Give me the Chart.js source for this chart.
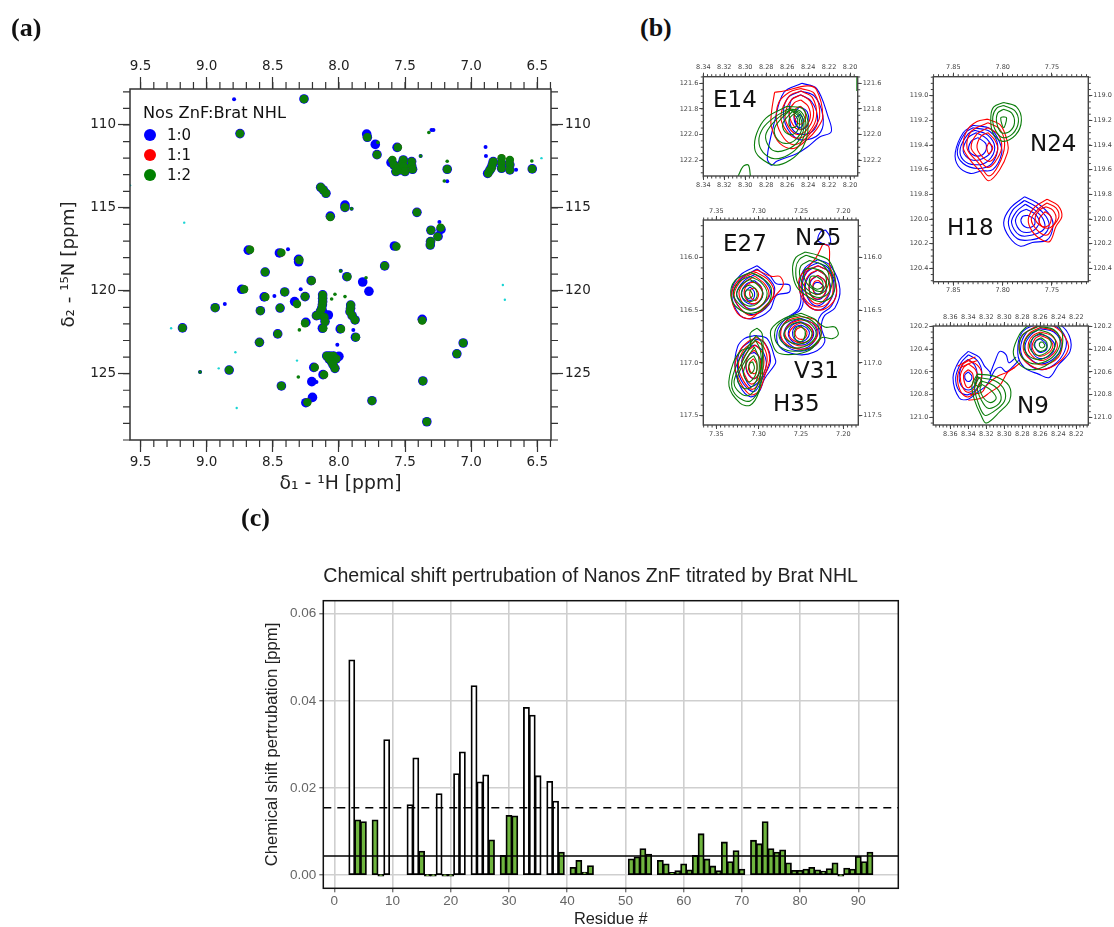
<!doctype html>
<html>
<head>
<meta charset="utf-8">
<title>Nanos ZnF titration by Brat NHL</title>
<style>
  html, body { margin: 0; background: #fff; }
  #page { position: relative; width: 1114px; height: 927px; overflow: hidden; }
  canvas { position: absolute; }
  .letter { position: absolute; font: bold 26px "Liberation Serif", serif; color: #111; line-height: 28px; }
  .peak { position: absolute; font: 23px "DejaVu Sans", sans-serif; color: #111; line-height: 28px; }
  .key { position: absolute; font: 15px "DejaVu Sans", sans-serif; color: #111; line-height: 20px; }
  .dot { position: absolute; width: 12px; height: 12px; border-radius: 50%; }
</style>
</head>
<body>
<div id="page">
  <canvas id="panelA" style="left:40px;top:40px" width="580" height="470"></canvas>
  <canvas id="panelE14" style="left:665px;top:50px" width="225" height="145"></canvas>
  <canvas id="panelE27" style="left:665px;top:198px" width="225" height="245"></canvas>
  <canvas id="panelN24" style="left:895px;top:55px" width="219" height="245"></canvas>
  <canvas id="panelN9" style="left:895px;top:305px" width="219" height="140"></canvas>
  <canvas id="panelC" style="left:250px;top:560px" width="670" height="372"></canvas>

  <div class="letter" style="left:11px;top:14px">(a)</div>
  <div class="letter" style="left:640px;top:14px">(b)</div>
  <div class="letter" style="left:241px;top:504px">(c)</div>

  <div class="key" style="left:143px;top:103px;font-size:16.2px">Nos ZnF:Brat NHL</div>
  <div class="dot" style="left:143.5px;top:129px;background:#0000ff"></div>
  <div class="key" style="left:167px;top:125px">1:0</div>
  <div class="dot" style="left:143.5px;top:149px;background:#ff0000"></div>
  <div class="key" style="left:167px;top:145px">1:1</div>
  <div class="dot" style="left:143.5px;top:169px;background:#008000"></div>
  <div class="key" style="left:167px;top:165px">1:2</div>

  <div class="peak" style="left:713px;top:85px">E14</div>
  <div class="peak" style="left:723px;top:229px">E27</div>
  <div class="peak" style="left:795px;top:223px">N25</div>
  <div class="peak" style="left:794px;top:356px">V31</div>
  <div class="peak" style="left:773px;top:389px">H35</div>
  <div class="peak" style="left:1030px;top:129px">N24</div>
  <div class="peak" style="left:947px;top:213px">H18</div>
  <div class="peak" style="left:1017px;top:391px">N9</div>
</div>

<script src="https://cdn.jsdelivr.net/npm/chart.js"></script>
<script>
// (a) HSQC peaks, [1H, 15N] in ppm
const hsqcXTicks = [9.5, 9.0, 8.5, 8.0, 7.5, 7.0, 6.5];
const hsqcYTicks = [110, 115, 120, 125];

const bluePeaks = [[8.264,108.43],[8.748,110.52],[7.79,110.55],[7.785,110.74],[7.725,111.17],[7.712,111.79],[7.56,111.35],
  [7.606,112.27],[7.585,112.4],[7.569,112.81],[7.55,112.5],[7.538,112.71],[7.513,112.11],[7.52,112.3],[7.508,112.51],[7.5,112.81],[7.45,112.21],[7.45,112.45],[7.443,112.67],
  [7.181,112.67],[6.875,112.92],[6.86,112.75],[6.85,112.61],[6.84,112.4],[6.833,112.21],[6.77,112.3],[6.77,112.61],[6.707,112.4],[6.707,112.71],[6.538,112.65],
  [8.138,113.76],[8.118,113.92],[8.098,114.12],[7.954,114.83],[7.954,114.97],[8.065,115.5],[7.41,115.27],
  [7.304,116.35],[7.228,116.3],[7.25,116.72],[7.307,117.03],[7.309,117.24],[7.58,117.3],[7.654,118.5],
  [8.685,117.55],[8.45,117.72],[8.305,118.1],[8.305,118.25],[8.558,118.87],[8.21,119.39],[7.94,119.15],[7.82,119.47],[7.773,120.03],
  [8.735,119.91],[8.41,120.07],[8.565,120.37],[8.256,120.35],[8.335,120.65],[8.936,121.02],[8.594,121.2],[8.445,121.04],
  [8.123,120.25],[8.123,120.45],[8.123,120.66],[8.125,120.85],[8.13,121.06],[8.14,121.25],[8.155,121.46],[8.17,121.5],[8.12,121.3],[8.08,121.46],[8.11,121.6],[8.105,121.86],[8.125,122.26],
  [7.911,120.86],[7.912,121.05],[7.916,121.26],[7.9,121.5],[7.878,121.76],[8.25,121.9],[7.99,122.3],[7.875,122.8],[9.183,122.24],[8.463,122.6],[8.601,123.11],
  [8.092,123.93],[8.07,123.93],[8.042,123.93],[8.0,123.95],[8.02,124.1],[8.075,124.1],[8.057,124.27],[8.045,124.45],[8.03,124.68],[8.19,124.62],[8.12,125.06],[8.83,124.78],
  [8.435,125.74],[8.205,125.48],[8.2,126.43],[8.25,126.75],[7.75,126.63],[7.37,121.72],[7.365,125.44],[7.335,127.9],[7.06,123.15],[7.108,123.8]];

const greenPeaks = [[8.264,108.43],[8.748,110.52],[7.785,110.74],[7.712,111.79],[7.554,111.35],
  [7.596,112.11],[7.585,112.4],[7.569,112.81],[7.55,112.6],[7.538,112.71],[7.513,112.11],[7.52,112.3],[7.508,112.51],[7.5,112.81],[7.45,112.21],[7.45,112.45],[7.443,112.67],
  [7.181,112.67],[6.871,112.92],[6.86,112.75],[6.846,112.61],[6.84,112.4],[6.833,112.21],[6.77,112.0],[6.77,112.3],[6.77,112.61],[6.707,112.11],[6.707,112.4],[6.707,112.71],[6.538,112.65],
  [8.138,113.76],[8.118,113.92],[8.098,114.12],[7.954,114.97],[8.065,115.55],[7.41,115.27],
  [7.304,116.35],[7.231,116.19],[7.254,116.74],[7.307,117.03],[7.309,117.24],[7.565,117.33],[7.654,118.5],
  [8.672,117.52],[8.435,117.7],[8.299,118.14],[8.558,118.87],[8.206,119.39],[7.936,119.15],
  [8.717,119.91],[8.41,120.07],[8.556,120.37],[8.256,120.35],[8.317,120.8],[8.936,121.02],[8.594,121.2],[8.445,121.04],
  [8.123,120.25],[8.123,120.45],[8.123,120.66],[8.125,120.85],[8.13,121.06],[8.14,121.25],[8.155,121.46],[8.17,121.5],[8.11,121.6],[8.105,121.86],[8.118,122.26],
  [7.911,120.86],[7.912,121.05],[7.916,121.26],[7.9,121.5],[7.878,121.76],[8.256,121.96],[7.984,122.3],[7.871,122.8],[9.183,122.24],[8.463,122.6],[8.601,123.11],
  [8.092,123.93],[8.07,123.93],[8.042,123.93],[8.02,124.1],[8.075,124.1],[8.057,124.27],[8.045,124.45],[8.03,124.68],[8.183,124.62],[8.112,125.06],[8.83,124.78],
  [8.435,125.74],[8.238,126.73],[7.75,126.63],[7.37,121.8],[7.365,125.44],[7.335,127.9],[7.06,123.15],[7.108,123.8]];

const smallBluePeaks = [[8.793,108.45],[7.3,110.3],[7.285,110.3],[7.382,111.87],[6.891,111.33],[6.888,111.87],[7.181,113.4],[6.66,112.7],
  [7.904,115.05],[8.385,117.5],[7.986,118.79],[8.488,120.31],[8.863,120.8],[8.289,119.91],[7.891,122.36],[8.012,123.25],[9.05,124.9],[8.17,125.5],[7.24,115.85]];
const smallGreenPeaks = [[7.795,119.21],[7.181,112.19],[7.203,113.38],[6.541,112.17],[7.904,115.05],[7.987,118.81],[8.307,125.2],
  [7.705,111.05],[8.03,120.21],[8.055,120.5],[7.954,120.35],[8.299,122.36],[7.32,110.45],[9.05,124.9],[7.382,111.87]];
const cyanPeaks = [[9.17,115.89],[9.58,113.64],[9.269,122.26],[8.783,123.71],[8.909,124.68],[8.317,124.21],[8.773,127.07],
  [6.745,120.54],[6.76,119.65],[6.468,112.0]];

// (b) contour rings as flat x,y lists in ppm
const e14XTicks = [8.34, 8.32, 8.30, 8.28, 8.26, 8.24, 8.22, 8.20];
const e14YTicks = [121.6, 121.8, 122.0, 122.2];
const e14Blue = [
  [8.246,121.6,8.232,121.64,8.221,121.86,8.218,121.98,8.229,122.02,8.241,122.1,8.251,122.15,8.27,122.21,8.275,122.24,8.279,122.18,8.272,121.9,8.263,121.67],
  [8.247,121.66,8.234,121.7,8.226,121.85,8.228,121.98,8.24,122.04,8.253,122.02,8.263,121.88,8.26,121.72],
  [8.247,121.69,8.237,121.74,8.231,121.86,8.234,121.96,8.245,122.0,8.255,121.96,8.258,121.85,8.256,121.73],
  [8.248,121.78,8.241,121.82,8.24,121.92,8.246,121.96,8.252,121.92,8.253,121.84],
  [8.248,121.84,8.245,121.88,8.246,121.94,8.25,121.94,8.252,121.88]];
const e14Red = [
  [8.272,121.67,8.263,121.66,8.241,121.62,8.232,121.65,8.226,121.86,8.232,121.96,8.241,122.04,8.254,122.11,8.267,122.07,8.275,121.94,8.275,121.83],
  [8.247,121.64,8.234,121.68,8.229,121.86,8.236,121.97,8.245,122.05,8.254,122.08,8.263,122.03,8.27,121.9,8.268,121.75,8.258,121.67],
  [8.247,121.66,8.236,121.71,8.232,121.86,8.239,121.98,8.25,122.03,8.26,121.98,8.266,121.86,8.258,121.7],
  [8.247,121.69,8.238,121.74,8.235,121.86,8.242,121.97,8.25,122.0,8.258,121.95,8.262,121.85,8.256,121.73],
  [8.247,121.73,8.24,121.78,8.238,121.87,8.244,121.95,8.25,121.96,8.256,121.9,8.258,121.82,8.253,121.75],
  [8.247,121.78,8.243,121.82,8.243,121.89,8.248,121.92,8.253,121.87,8.252,121.8]];
const e14Green = [
  [8.26,121.78,8.245,121.8,8.24,121.94,8.245,122.1,8.257,122.2,8.272,122.24,8.286,122.18,8.291,122.11,8.289,121.99,8.28,121.87],
  [8.259,121.8,8.247,121.82,8.242,121.94,8.248,122.08,8.259,122.16,8.272,122.19,8.283,122.14,8.287,122.05,8.283,121.95,8.273,121.87],
  [8.258,121.81,8.248,121.83,8.244,121.94,8.25,122.06,8.261,122.12,8.272,122.13,8.279,122.07,8.28,121.99,8.27,121.88],
  [8.257,121.81,8.249,121.84,8.246,121.95,8.252,122.04,8.262,122.07,8.27,122.03,8.272,121.95,8.265,121.87],
  [8.255,121.82,8.249,121.86,8.249,121.95,8.255,122.0,8.262,121.98,8.264,121.91],
  [8.254,121.84,8.25,121.88,8.252,121.94,8.257,121.94,8.258,121.88]];
const e14GreenOpen = [[8.307,122.33,8.302,122.25,8.297,122.24,8.295,122.33],[8.1935,121.52,8.1935,121.66]];

const e27XTicks = [7.35, 7.30, 7.25, 7.20];
const e27YTicks = [116.0, 116.5, 117.0, 117.5];
const e27Blue = [
  // E27
  [7.302,116.08,7.287,116.17,7.279,116.25,7.264,116.26,7.264,116.33,7.279,116.36,7.287,116.5,7.306,116.58,7.322,116.55,7.332,116.33,7.322,116.17],
  [7.302,116.11,7.288,116.2,7.281,116.3,7.288,116.45,7.305,116.54,7.32,116.5,7.33,116.34,7.32,116.2],
  [7.304,116.16,7.292,116.23,7.286,116.33,7.294,116.44,7.308,116.49,7.32,116.44,7.326,116.34,7.317,116.22],
  [7.305,116.22,7.297,116.28,7.296,116.38,7.305,116.44,7.316,116.42,7.32,116.33,7.314,116.25],
  [7.31,116.28,7.305,116.33,7.307,116.4,7.313,116.4,7.316,116.33],
  // N25 joined to V31
  [7.23,116.02,7.215,116.08,7.204,116.3,7.21,116.48,7.222,116.55,7.226,116.66,7.222,116.8,7.235,116.9,7.255,116.92,7.275,116.85,7.278,116.7,7.268,116.58,7.254,116.5,7.25,116.4,7.252,116.25,7.245,116.1],
  [7.23,116.05,7.218,116.1,7.208,116.3,7.214,116.46,7.226,116.54,7.23,116.62,7.228,116.78,7.24,116.87,7.258,116.88,7.272,116.8,7.274,116.68,7.262,116.56,7.25,116.49,7.247,116.38,7.249,116.22,7.242,116.1],
  [7.23,116.08,7.216,116.14,7.211,116.3,7.218,116.44,7.23,116.5,7.243,116.44,7.249,116.3,7.243,116.14],
  [7.23,116.12,7.22,116.18,7.215,116.3,7.222,116.42,7.232,116.46,7.241,116.4,7.245,116.28,7.24,116.17],
  [7.23,116.17,7.222,116.22,7.22,116.31,7.226,116.39,7.234,116.39,7.24,116.32,7.238,116.22],
  [7.228,116.24,7.223,116.28,7.226,116.34,7.233,116.34,7.236,116.28,7.233,116.24],
  [7.221,115.74,7.216,115.8,7.216,115.88,7.224,115.87,7.23,115.84,7.227,115.76],
  // V31
  [7.25,116.58,7.237,116.62,7.231,116.72,7.237,116.82,7.25,116.87,7.264,116.82,7.27,116.72,7.263,116.62],
  [7.25,116.61,7.24,116.65,7.235,116.72,7.24,116.8,7.25,116.83,7.261,116.79,7.265,116.72,7.26,116.64],
  [7.25,116.64,7.243,116.67,7.24,116.72,7.244,116.78,7.251,116.8,7.258,116.77,7.26,116.71,7.257,116.66],
  // H35
  [7.305,116.74,7.29,116.77,7.281,116.95,7.28,117.0,7.293,117.15,7.3,117.28,7.31,117.32,7.322,117.22,7.328,117.03,7.325,116.85,7.317,116.77],
  [7.305,116.77,7.293,116.81,7.286,116.98,7.295,117.14,7.305,117.27,7.318,117.2,7.325,117.04,7.321,116.87],
  [7.305,116.83,7.296,116.88,7.291,117.02,7.3,117.18,7.31,117.22,7.318,117.1,7.32,116.98,7.314,116.87],
  [7.305,116.9,7.298,116.96,7.298,117.07,7.305,117.15,7.313,117.1,7.315,117.0,7.311,116.92]];
const e27Red = [
  [7.302,116.12,7.285,116.18,7.275,116.18,7.271,116.26,7.28,116.36,7.295,116.48,7.31,116.58,7.325,116.53,7.332,116.35,7.322,116.2],
  [7.303,116.14,7.288,116.22,7.282,116.33,7.29,116.46,7.308,116.55,7.322,116.48,7.329,116.35,7.318,116.2],
  [7.304,116.18,7.292,116.26,7.288,116.36,7.298,116.46,7.31,116.5,7.32,116.42,7.323,116.32,7.314,116.22],
  [7.303,116.24,7.296,116.3,7.298,116.4,7.307,116.44,7.316,116.38,7.316,116.29,7.31,116.24],
  [7.304,116.29,7.3,116.35,7.304,116.41,7.31,116.37,7.309,116.3],
  [7.224,115.87,7.217,115.9,7.216,116.08,7.21,116.2,7.208,116.35,7.215,116.45,7.227,116.5,7.24,116.47,7.25,116.36,7.252,116.2,7.24,116.08,7.232,116.0],
  [7.23,116.08,7.217,116.14,7.212,116.3,7.218,116.43,7.23,116.47,7.243,116.42,7.25,116.28,7.243,116.13],
  [7.23,116.12,7.22,116.18,7.216,116.3,7.222,116.4,7.232,116.44,7.242,116.37,7.246,116.27,7.24,116.16],
  [7.23,116.17,7.222,116.22,7.22,116.3,7.226,116.38,7.234,116.39,7.24,116.32,7.239,116.22],
  [7.229,116.22,7.224,116.27,7.227,116.34,7.233,116.35,7.236,116.28,7.234,116.23],
  [7.25,116.56,7.232,116.6,7.226,116.72,7.233,116.83,7.25,116.87,7.266,116.83,7.274,116.73,7.268,116.61],
  [7.25,116.59,7.235,116.63,7.23,116.72,7.237,116.81,7.25,116.84,7.263,116.8,7.269,116.72,7.263,116.63],
  [7.25,116.62,7.24,116.65,7.236,116.72,7.241,116.79,7.25,116.81,7.26,116.78,7.264,116.72,7.258,116.65],
  [7.25,116.66,7.244,116.69,7.243,116.73,7.246,116.77,7.253,116.77,7.257,116.73,7.255,116.68],
  [7.303,116.76,7.294,116.8,7.287,116.95,7.292,117.1,7.3,117.27,7.31,117.3,7.322,117.18,7.328,117.03,7.322,116.88,7.313,116.8],
  [7.303,116.79,7.294,116.85,7.29,116.98,7.297,117.15,7.307,117.25,7.318,117.17,7.324,117.02,7.317,116.87],
  [7.304,116.83,7.296,116.9,7.294,117.02,7.3,117.15,7.309,117.2,7.316,117.12,7.32,117.0,7.313,116.89],
  [7.305,116.88,7.299,116.95,7.298,117.06,7.305,117.15,7.313,117.09,7.315,116.99,7.31,116.91],
  [7.306,116.96,7.302,117.02,7.304,117.1,7.31,117.08,7.311,117.0]];
const e27Green = [
  [7.31,116.14,7.295,116.2,7.285,116.3,7.29,116.45,7.308,116.53,7.325,116.48,7.333,116.36,7.328,116.22],
  [7.311,116.18,7.298,116.23,7.29,116.34,7.297,116.46,7.31,116.5,7.322,116.45,7.33,116.35,7.323,116.23],
  [7.31,116.21,7.3,116.27,7.295,116.35,7.302,116.44,7.312,116.46,7.322,116.41,7.326,116.34,7.319,116.25],
  [7.31,116.26,7.303,116.31,7.303,116.39,7.312,116.42,7.32,116.37,7.318,116.29],
  [7.31,116.31,7.307,116.36,7.312,116.39,7.316,116.35,7.314,116.31],
  [7.245,115.95,7.23,115.98,7.217,116.03,7.21,116.18,7.212,116.35,7.225,116.42,7.24,116.38,7.255,116.28,7.26,116.12,7.256,116.0],
  [7.244,115.98,7.23,116.02,7.218,116.08,7.213,116.2,7.217,116.33,7.228,116.38,7.242,116.34,7.254,116.24,7.256,116.1,7.252,116.02],
  [7.24,116.03,7.225,116.07,7.217,116.17,7.22,116.3,7.23,116.35,7.243,116.3,7.251,116.19,7.25,116.08],
  [7.237,116.1,7.224,116.14,7.22,116.24,7.226,116.32,7.236,116.3,7.245,116.22,7.246,116.12],
  [7.232,116.18,7.225,116.22,7.225,116.28,7.232,116.3,7.24,116.24,7.238,116.18],
  [7.25,116.53,7.235,116.58,7.222,116.66,7.21,116.66,7.206,116.73,7.213,116.77,7.225,116.76,7.24,116.88,7.26,116.92,7.278,116.9,7.285,116.78,7.285,116.68,7.27,116.58],
  [7.252,116.55,7.237,116.6,7.226,116.72,7.238,116.85,7.258,116.89,7.274,116.85,7.281,116.76,7.278,116.65,7.266,116.58],
  [7.252,116.58,7.24,116.62,7.232,116.72,7.24,116.82,7.256,116.86,7.27,116.82,7.276,116.74,7.272,116.65,7.263,116.6],
  [7.252,116.61,7.243,116.65,7.237,116.72,7.243,116.8,7.256,116.82,7.267,116.78,7.27,116.72,7.262,116.64],
  [7.25,116.65,7.245,116.7,7.247,116.78,7.253,116.8,7.258,116.74,7.256,116.67],
  [7.302,116.67,7.296,116.72,7.295,116.9,7.298,117.12,7.3,117.28,7.31,117.4,7.322,117.38,7.335,117.22,7.33,117.0,7.32,116.88,7.31,116.85,7.31,116.72],
  [7.303,116.74,7.297,116.8,7.295,117.0,7.298,117.22,7.31,117.36,7.325,117.32,7.332,117.2,7.325,117.0,7.313,116.85],
  [7.304,116.78,7.298,116.88,7.297,117.05,7.302,117.22,7.313,117.31,7.325,117.26,7.329,117.17,7.32,117.0,7.31,116.85],
  [7.305,116.85,7.3,116.95,7.3,117.1,7.307,117.22,7.318,117.24,7.325,117.15,7.316,116.98],
  [7.306,116.93,7.302,117.0,7.304,117.12,7.312,117.18,7.318,117.1,7.313,116.98],
  [7.307,116.99,7.305,117.05,7.309,117.1,7.312,117.05,7.31,117.0]];

const n24XTicks = [7.85, 7.80, 7.75];
const n24YTicks = [119.0, 119.2, 119.4, 119.6, 119.8, 120.0, 120.2, 120.4];
const n24Blue = [
  [7.83,119.24,7.812,119.27,7.803,119.38,7.801,119.47,7.81,119.6,7.822,119.61,7.833,119.63,7.845,119.57,7.848,119.46,7.84,119.3],
  [7.83,119.26,7.813,119.29,7.805,119.4,7.811,119.55,7.825,119.59,7.84,119.55,7.846,119.45,7.838,119.3],
  [7.828,119.28,7.815,119.32,7.808,119.42,7.815,119.53,7.828,119.56,7.84,119.52,7.843,119.43,7.835,119.31],
  [7.827,119.3,7.816,119.35,7.811,119.44,7.82,119.51,7.832,119.52,7.84,119.45,7.835,119.34],
  [7.825,119.34,7.817,119.39,7.818,119.46,7.826,119.49,7.834,119.45,7.832,119.37],
  [7.778,119.82,7.765,119.87,7.752,119.97,7.749,120.06,7.755,120.17,7.77,120.19,7.782,120.22,7.793,120.15,7.799,120.03,7.792,119.91],
  [7.778,119.85,7.766,119.9,7.756,119.98,7.753,120.06,7.76,120.14,7.772,120.17,7.785,120.16,7.794,120.05,7.79,119.93],
  [7.777,119.88,7.767,119.93,7.759,120.0,7.758,120.08,7.77,120.13,7.783,120.13,7.791,120.03,7.786,119.94],
  [7.776,119.92,7.767,119.96,7.763,120.03,7.77,120.1,7.781,120.1,7.787,120.02,7.783,119.95],
  [7.775,119.97,7.768,120.0,7.768,120.05,7.775,120.07,7.781,120.03,7.78,119.98]];
const n24Red = [
  [7.815,119.19,7.802,119.24,7.795,119.38,7.795,119.46,7.803,119.6,7.814,119.69,7.822,119.62,7.833,119.52,7.84,119.42,7.836,119.28,7.826,119.21],
  [7.815,119.22,7.803,119.27,7.798,119.4,7.804,119.56,7.814,119.65,7.824,119.55,7.836,119.43,7.832,119.29],
  [7.815,119.26,7.805,119.31,7.801,119.42,7.808,119.54,7.816,119.58,7.825,119.5,7.832,119.42,7.826,119.31],
  [7.815,119.3,7.808,119.36,7.805,119.44,7.812,119.53,7.82,119.5,7.826,119.42,7.822,119.33],
  [7.814,119.38,7.81,119.42,7.814,119.47,7.816,119.42],
  [7.755,119.84,7.744,119.89,7.74,119.98,7.746,120.06,7.752,120.18,7.76,120.17,7.77,120.1,7.774,120.0,7.767,119.9],
  [7.755,119.87,7.746,119.91,7.743,119.98,7.749,120.06,7.755,120.13,7.765,120.09,7.771,120.0,7.764,119.92],
  [7.756,119.9,7.749,119.93,7.746,120.0,7.752,120.07,7.76,120.06,7.767,120.0,7.763,119.93],
  [7.757,119.94,7.751,119.98,7.753,120.05,7.76,120.06,7.763,120.0]];
const n24Green = [
  [7.799,119.055,7.786,119.09,7.781,119.2,7.787,119.32,7.8,119.37,7.81,119.3,7.812,119.17,7.809,119.09],
  [7.799,119.08,7.788,119.12,7.784,119.21,7.79,119.31,7.8,119.34,7.808,119.27,7.81,119.17,7.806,119.1],
  [7.799,119.11,7.791,119.14,7.788,119.22,7.793,119.29,7.801,119.3,7.806,119.22,7.805,119.14],
  [7.799,119.17,7.796,119.18,7.799,119.26,7.802,119.18]];

const n9XTicks = [8.36, 8.34, 8.32, 8.30, 8.28, 8.26, 8.24, 8.22];
const n9YTicks = [120.2, 120.4, 120.6, 120.8, 121.0];
const n9Blue = [
  [8.26,120.17,8.24,120.18,8.228,120.28,8.227,120.42,8.24,120.54,8.25,120.65,8.262,120.62,8.278,120.56,8.285,120.44,8.28,120.25],
  [8.26,120.19,8.243,120.2,8.232,120.3,8.233,120.42,8.245,120.54,8.26,120.58,8.275,120.52,8.282,120.4,8.275,120.25],
  [8.26,120.22,8.245,120.25,8.237,120.35,8.242,120.46,8.258,120.53,8.272,120.48,8.277,120.37,8.27,120.27],
  [8.26,120.27,8.25,120.3,8.244,120.37,8.25,120.46,8.262,120.48,8.27,120.4,8.268,120.3],
  [8.26,120.31,8.254,120.35,8.253,120.4,8.26,120.43,8.266,120.38,8.265,120.33],
  [8.34,120.42,8.328,120.47,8.322,120.55,8.315,120.62,8.32,120.72,8.33,120.78,8.34,120.84,8.35,120.83,8.357,120.65,8.35,120.5],
  [8.34,120.45,8.33,120.5,8.325,120.6,8.328,120.72,8.34,120.8,8.35,120.77,8.354,120.65,8.348,120.52],
  [8.34,120.49,8.333,120.54,8.33,120.62,8.333,120.72,8.34,120.76,8.348,120.72,8.35,120.62,8.346,120.53],
  [8.34,120.6,8.336,120.64,8.338,120.68,8.342,120.68,8.344,120.63]];
const n9BlueOpen = [[8.316,120.62,8.31,120.5,8.305,120.42,8.298,120.45,8.295,120.52,8.287,120.47],
  [8.315,120.65,8.31,120.58,8.304,120.56,8.298,120.6,8.29,120.55,8.284,120.5]];
const n9Red = [
  [8.26,120.18,8.245,120.2,8.232,120.3,8.229,120.4,8.24,120.52,8.258,120.58,8.275,120.52,8.283,120.42,8.28,120.28],
  [8.26,120.21,8.245,120.24,8.236,120.33,8.24,120.47,8.258,120.54,8.274,120.47,8.279,120.37,8.272,120.26],
  [8.26,120.25,8.248,120.28,8.241,120.37,8.248,120.46,8.26,120.5,8.272,120.43,8.273,120.34,8.268,120.28],
  [8.26,120.28,8.251,120.31,8.246,120.37,8.252,120.44,8.262,120.46,8.269,120.39,8.266,120.31],
  [8.34,120.5,8.33,120.54,8.325,120.62,8.33,120.75,8.34,120.82,8.348,120.78,8.352,120.65,8.347,120.54],
  [8.34,120.53,8.332,120.58,8.33,120.65,8.333,120.74,8.34,120.78,8.346,120.74,8.349,120.64,8.345,120.56],
  [8.34,120.58,8.335,120.62,8.335,120.7,8.34,120.74,8.344,120.7,8.345,120.62]];
const n9RedOpen = [[8.283,120.35,8.296,120.36,8.31,120.43,8.315,120.47,8.332,120.47,8.352,120.55],
  [8.285,120.4,8.298,120.42,8.31,120.48,8.33,120.5,8.348,120.56],
  [8.34,120.85,8.325,120.83,8.316,120.78,8.305,120.72,8.296,120.6,8.288,120.56],
  [8.338,120.8,8.325,120.78,8.32,120.72,8.308,120.64,8.296,120.6,8.282,120.52]];
const n9Green = [
  [8.275,120.2,8.26,120.18,8.24,120.2,8.235,120.32,8.24,120.45,8.255,120.55,8.272,120.58,8.285,120.52,8.29,120.42,8.283,120.27],
  [8.262,120.2,8.245,120.23,8.238,120.33,8.244,120.45,8.258,120.52,8.272,120.52,8.283,120.43,8.28,120.28],
  [8.262,120.23,8.248,120.27,8.243,120.35,8.25,120.45,8.262,120.49,8.274,120.45,8.278,120.36,8.272,120.27],
  [8.26,120.26,8.251,120.3,8.248,120.37,8.255,120.44,8.265,120.45,8.272,120.38,8.268,120.3],
  [8.259,120.3,8.253,120.34,8.254,120.4,8.261,120.42,8.267,120.37,8.264,120.32],
  [8.257,120.34,8.255,120.37,8.258,120.39,8.261,120.37,8.26,120.34],
  [8.33,120.62,8.31,120.64,8.295,120.72,8.294,120.85,8.305,120.95,8.32,121.05,8.326,120.98,8.333,120.85,8.336,120.72],
  [8.328,120.65,8.31,120.68,8.3,120.76,8.3,120.86,8.312,120.95,8.322,120.98,8.33,120.85,8.333,120.73],
  [8.326,120.68,8.312,120.72,8.304,120.8,8.306,120.88,8.318,120.92,8.326,120.84,8.33,120.74],
  [8.325,120.71,8.315,120.76,8.309,120.83,8.315,120.87,8.323,120.83,8.327,120.75],
  [8.33,120.64,8.325,120.68,8.328,120.73,8.333,120.7]];

// (c) chemical shift perturbation per residue
const residues = [3,4,5,7,8,9,13,14,15,16,17,18,19,20,21,22,24,25,26,27,29,30,31,33,34,35,37,38,39,41,42,43,44,
  51,52,53,54,56,57,58,59,60,61,62,63,64,65,66,67,68,69,70,72,73,74,75,76,77,78,79,80,81,82,83,84,85,86,87,88,89,90,91,92];
const shifts = [.0494,.0127,.0123,.0127,0,.0311,.0162,.0269,.0055,0,0,.0187,0,0,.0233,.0283,.0435,.0214,.023,.0081,.0045,.0137,.0136,.0385,.0367,.0228,.0215,.017,.0053,.0018,.0034,.0007,.0022,
  .00375,.0042,.0061,.0048,.0034,.0026,.0006,.001,.0026,.0012,.0045,.0095,.0037,.0021,.001,.0076,.0031,.0056,.0014,.008,.0072,.0123,.0061,.0053,.0058,.0028,.0011,.0011,.0014,.0018,.0012,.0009,.0015,.0028,0,.0016,.0014,.0043,.0031,.0053];
const upperCutoff = 0.0155;
const lowerCutoff = 0.0044;
const residueTicks = [0, 10, 20, 30, 40, 50, 60, 70, 80, 90];
const shiftTicks = [0, 0.02, 0.04, 0.06];

const BLUE = '#0000ff', RED = '#ff0000', GREEN = '#0a7d0a';

// frame round the plot area, plus the short minor ticks on each side
const framePlugin = {
  id: 'frame',
  afterDraw(chart, args, o) {
    const { ctx, chartArea: a, scales } = chart;
    ctx.save();
    if (o.minor) {
      ctx.strokeStyle = o.color;
      ctx.lineWidth = o.minor.width;
      ctx.beginPath();
      const stepper = (scale, step, fn) => {
        const first = Math.ceil(scale.min / step - 1e-6);
        for (let k = first; k * step <= scale.max + 1e-9; k++) fn(scale.getPixelForValue(k * step));
      };
      stepper(scales.x, o.minor.x, px => {
        ctx.moveTo(px, a.top); ctx.lineTo(px, a.top - o.minor.len);
        ctx.moveTo(px, a.bottom); ctx.lineTo(px, a.bottom + o.minor.len);
      });
      stepper(scales.y, o.minor.y, py => {
        ctx.moveTo(a.left, py); ctx.lineTo(a.left - o.minor.len, py);
        ctx.moveTo(a.right, py); ctx.lineTo(a.right + o.minor.len, py);
      });
      ctx.stroke();
    }
    ctx.strokeStyle = o.color;
    ctx.lineWidth = o.width;
    ctx.strokeRect(a.left, a.top, a.right - a.left, a.bottom - a.top);
    ctx.restore();
  }
};

function axis(position, range, ticks, size, st, title) {
  const horizontal = position === 'top' || position === 'bottom';
  return {
    type: 'linear', position, reverse: true, min: range[0], max: range[1],
    afterBuildTicks: s => { s.ticks = ticks.map(v => ({ value: v })); },
    afterFit: s => { if (horizontal) s.height = size; else s.width = size; },
    border: { display: false },
    grid: { drawOnChartArea: false, tickLength: st.tick, tickColor: st.color, tickWidth: st.tickWidth },
    ticks: {
      autoSkip: false, maxRotation: 0, padding: st.pad, color: st.label,
      font: { family: 'DejaVu Sans', size: st.font },
      callback: v => v.toFixed(horizontal ? st.xDec : st.yDec)
    },
    title: title || { display: false }
  };
}

function nmrChart(id, area, xRange, yRange, xTicks, yTicks, st, datasets, titles) {
  const el = document.getElementById(id);
  const l = parseFloat(el.style.left), t = parseFloat(el.style.top);
  const mLeft = area[0] - l, mTop = area[1] - t;
  const mRight = l + el.width - area[2], mBottom = t + el.height - area[3];
  titles = titles || {};
  return new Chart(el, {
    type: 'scatter',
    data: { datasets },
    options: {
      responsive: false, animation: false, events: [],
      layout: { padding: 0, autoPadding: false },
      scales: {
        x: axis('bottom', xRange, xTicks, mBottom, st, titles.x),
        x2: axis('top', xRange, xTicks, mTop, st),
        y: axis('left', yRange, yTicks, mLeft, st, titles.y),
        y2: axis('right', yRange, yTicks, mRight, st)
      },
      plugins: {
        legend: { display: false }, tooltip: { enabled: false },
        frame: { color: st.color, width: st.frame, minor: st.minor }
      }
    },
    plugins: [framePlugin]
  });
}

const toPoints = flat => {
  const pts = [];
  for (let i = 0; i < flat.length; i += 2) pts.push({ x: flat[i], y: flat[i + 1] });
  return pts;
};
const ringSets = (rings, color, order) => rings.map(r => {
  const pts = toPoints(r);
  return { data: pts.concat(pts[0]), showLine: true, pointRadius: 0, borderColor: color, borderWidth: 1.1, tension: 0.35, order };
});
const openSets = (lines, color, order) => lines.map(r => (
  { data: toPoints(r), showLine: true, pointRadius: 0, borderColor: color, borderWidth: 1.1, tension: 0.35, order }
));
const peakSet = (list, color, radius, order) => ({
  data: list.map(p => ({ x: p[0], y: p[1] })),
  pointRadius: radius, pointBackgroundColor: color, pointBorderWidth: 0, order
});

// panel (a)
nmrChart('panelA', [130, 89, 551, 440], [9.58, 6.396], [107.83, 129.0], hsqcXTicks, hsqcYTicks,
  { tick: 12, tickWidth: 1.2, pad: 2, font: 13.5, color: '#333', label: '#222', frame: 1.5, xDec: 1, yDec: 0,
    minor: { x: 0.1, y: 1, len: 7, width: 1.2 } },
  [
    peakSet(cyanPeaks, '#19d4d4', 1.2, 6),
    peakSet(bluePeaks, BLUE, 4.8, 5),
    peakSet(smallBluePeaks, BLUE, 2, 4),
    peakSet(greenPeaks, RED, 3.8, 3),
    peakSet(greenPeaks, GREEN, 4.2, 2),
    peakSet(smallGreenPeaks, GREEN, 1.8, 1)
  ],
  {
    x: { display: true, text: 'δ₁ - ¹H [ppm]', color: '#222', padding: { bottom: 15 }, font: { family: 'DejaVu Sans', size: 18.8, lineHeight: 1.2 } },
    y: { display: true, text: 'δ₂ - ¹⁵N [ppm]', color: '#222', padding: { top: 18 }, font: { family: 'DejaVu Sans', size: 18.3, lineHeight: 1.2 } }
  });

// panel (b)
const smallStyle = (xDec, yDec, minorX, minorY) => ({
  tick: 4, tickWidth: 1, pad: 1, font: 6.5, color: '#444', label: '#444', frame: 1.4, xDec, yDec,
  minor: { x: minorX, y: minorY, len: 2.5, width: 1 }
});

nmrChart('panelE14', [703.3, 76.7, 857.7, 176], [8.34, 8.1927], [121.548, 122.325], e14XTicks, e14YTicks,
  smallStyle(2, 1, 0.004, 0.05),
  [...ringSets(e14Green, GREEN, 1), ...openSets(e14GreenOpen, GREEN, 1), ...ringSets(e14Red, RED, 2), ...ringSets(e14Blue, BLUE, 3)]);

nmrChart('panelE27', [703.3, 220, 858.3, 425], [7.3654, 7.1823], [115.646, 117.588], e27XTicks, e27YTicks,
  smallStyle(2, 1, 0.005, 0.1),
  [...ringSets(e27Green, GREEN, 1), ...ringSets(e27Red, RED, 2), ...ringSets(e27Blue, BLUE, 3)]);

nmrChart('panelN24', [933.3, 76.7, 1088.3, 281.7], [7.8703, 7.7132], [118.846, 120.508], n24XTicks, n24YTicks,
  smallStyle(2, 1, 0.005, 0.05),
  [...ringSets(n24Green, GREEN, 1), ...ringSets(n24Red, RED, 2), ...ringSets(n24Blue, BLUE, 3)]);

nmrChart('panelN9', [933.3, 326, 1088.3, 425], [8.3789, 8.2067], [120.197, 121.067], n9XTicks, n9YTicks,
  smallStyle(2, 1, 0.004, 0.05),
  [...ringSets(n9Green, GREEN, 1), ...ringSets(n9Red, RED, 2), ...openSets(n9RedOpen, RED, 2), ...ringSets(n9Blue, BLUE, 3), ...openSets(n9BlueOpen, BLUE, 3)]);

// panel (c)
const GREY = '#cfcfcf';
const cutoffLine = (y, dash) => ({
  type: 'line', data: [{ x: -1.89, y }, { x: 96.87, y }], borderColor: '#000', borderWidth: 1.5,
  borderDash: dash, pointRadius: 0, order: 1
});
new Chart(document.getElementById('panelC'), {
  data: {
    datasets: [
      cutoffLine(upperCutoff, [8, 6]),
      cutoffLine(lowerCutoff, []),
      {
        type: 'bar', order: 2,
        data: residues.map((r, i) => ({ x: r, y: shifts[i] })),
        backgroundColor: c => (c.parsed.y > upperCutoff ? '#ffffff' : '#6fb53e'),
        borderColor: '#000', borderWidth: 1.8, borderSkipped: false, inflateAmount: 0.5,
        barPercentage: 1, categoryPercentage: 1, minBarLength: 1.5
      }
    ]
  },
  options: {
    responsive: false, animation: false, events: [],
    layout: { padding: { right: 21.7 }, autoPadding: false },
    scales: {
      x: {
        type: 'linear', min: -1.89, max: 96.87, offset: false,
        afterBuildTicks: s => { s.ticks = residueTicks.map(v => ({ value: v })); },
        afterFit: s => { s.height = 43.7; },
        border: { display: false },
        grid: { offset: false, color: GREY, lineWidth: 1.6, tickLength: 4, tickColor: '#444', tickWidth: 1 },
        ticks: { autoSkip: false, maxRotation: 0, padding: 1, color: '#666', font: { family: 'Liberation Sans', size: 13.5 } },
        title: { display: true, text: 'Residue #', color: '#222', padding: { bottom: 2.5 }, font: { family: 'Liberation Sans', size: 16.4, lineHeight: 1.2 } }
      },
      y: {
        type: 'linear', min: -0.003, max: 0.063,
        afterBuildTicks: s => { s.ticks = shiftTicks.map(v => ({ value: v })); },
        afterFit: s => { s.width = 73.3; },
        border: { display: false },
        grid: { color: GREY, lineWidth: 1.6, tickLength: 4, tickColor: '#444', tickWidth: 1 },
        ticks: { padding: 3, color: '#666', font: { family: 'Liberation Sans', size: 13.5 }, callback: v => v.toFixed(2) },
        title: { display: true, text: 'Chemical shift pertrubation [ppm]', color: '#222', padding: { top: 12 }, font: { family: 'Liberation Sans', size: 16.6, lineHeight: 1.2 } }
      }
    },
    plugins: {
      legend: { display: false }, tooltip: { enabled: false },
      title: {
        display: true, text: 'Chemical shift pertrubation of Nanos ZnF titrated by Brat NHL',
        align: 'start', fullSize: false, color: '#222',
        padding: { top: 6, bottom: 12.7 }, font: { family: 'Liberation Sans', size: 19.6, lineHeight: 22 / 19.6, weight: 'normal' }
      },
      frame: { color: '#111', width: 1.5 }
    }
  },
  plugins: [framePlugin]
});
</script>
</body>
</html>
